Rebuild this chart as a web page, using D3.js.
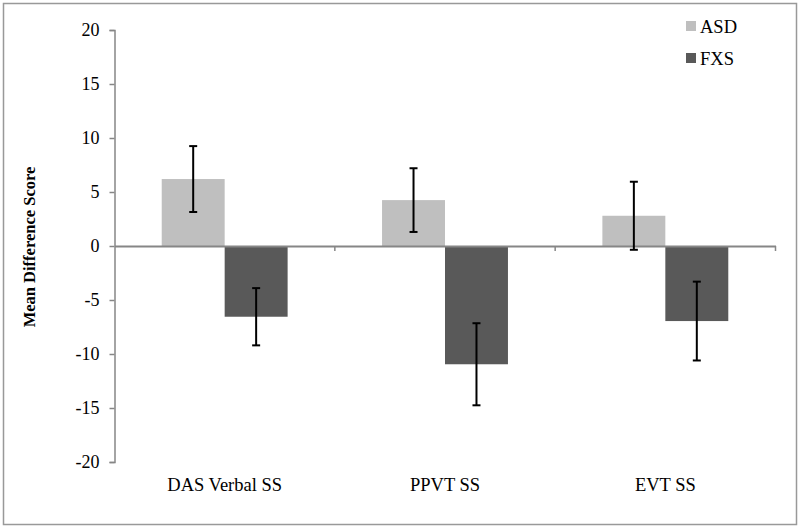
<!DOCTYPE html>
<html>
<head>
<meta charset="utf-8">
<script src="https://cdn.jsdelivr.net/npm/d3@7"></script>
<style>
  html, body { margin: 0; padding: 0; background: #fff; }
  svg { display: block; }
  svg text { font-family: 'Liberation Serif', 'Times New Roman', Times, serif !important; fill: #000; }
</style>
</head>
<body>
<script>
const categories = ["DAS Verbal SS", "PPVT SS", "EVT SS"];
const seriesNames = ["ASD", "FXS"];
const asdValues = [6.2, 4.25, 2.8];
const asdErrors = [3.05, 2.95, 3.15];
const fxsValues = [-6.55, -10.95, -6.95];
const fxsErrors = [2.65, 3.8, 3.65];
const yTicks = [-20, -15, -10, -5, 0, 5, 10, 15, 20];
const colors = { ASD: "#bfbfbf", FXS: "#595959" };
const SERIF = "'Liberation Serif', 'Times New Roman', Times, serif";

const W = 800, H = 529;
const svg = d3.select("body").append("svg").attr("width", W).attr("height", H)
  .style("font-family", SERIF);

// outer border
svg.append("rect").attr("x", 3.5).attr("y", 3.5).attr("width", 793).attr("height", 521)
  .attr("fill", "none").attr("stroke", "#999").attr("stroke-width", 1.5);

const plotLeft = 114.5, plotRight = 775.5;
const y = d3.scaleLinear().domain([-20, 20]).range([462, 30]);
const x0 = d3.scaleBand().domain(categories).range([plotLeft, plotRight]).paddingInner(0).paddingOuter(0);
const x1 = d3.scaleBand().domain(seriesNames).range([0, x0.bandwidth()]).paddingInner(0).paddingOuter(0.75);

const data = [];
categories.forEach((c, i) => {
  data.push({ cat: c, s: "ASD", v: asdValues[i], e: asdErrors[i] });
  data.push({ cat: c, s: "FXS", v: fxsValues[i], e: fxsErrors[i] });
});

// bars
svg.append("g").selectAll("rect").data(data).join("rect")
  .attr("x", d => x0(d.cat) + x1(d.s))
  .attr("width", x1.bandwidth())
  .attr("y", d => y(Math.max(0, d.v)))
  .attr("height", d => Math.abs(y(d.v) - y(0)))
  .attr("fill", d => colors[d.s]);

// y axis
const yAxis = d3.axisLeft(y).tickValues(yTicks).tickSize(5).tickPadding(10).tickFormat(d => String(d));
const gy = svg.append("g").attr("transform", `translate(${plotLeft},0)`).call(yAxis)
  .attr("font-family", null).style("font-family", SERIF);
gy.select(".domain").attr("stroke", "#868686").attr("stroke-width", 1.5);
gy.selectAll(".tick line").attr("stroke", "#868686").attr("stroke-width", 1.5);
gy.selectAll(".tick text").attr("font-size", 18).style("font-family", SERIF).attr("fill", "#000");

// x axis at zero
const xAxis = d3.axisBottom(x0).tickSize(0).tickFormat("");
const gx = svg.append("g").attr("transform", `translate(0,${y(0)})`).call(xAxis);
gx.select(".domain").attr("stroke", "#868686").attr("stroke-width", 2);
gx.selectAll(".tick").remove();
const boundaries = categories.map(c => x0(c) + x0.bandwidth());
gx.selectAll("line.btick").data(boundaries).join("line").attr("class", "btick")
  .attr("x1", d => d).attr("x2", d => d).attr("y1", 0).attr("y2", 5)
  .attr("stroke", "#868686").attr("stroke-width", 1.5);

// category labels
svg.append("g").selectAll("text").data(categories).join("text")
  .attr("x", d => x0(d) + x0.bandwidth() / 2)
  .attr("y", 491)
  .attr("text-anchor", "middle")
  .attr("font-size", 18.5)
  .style("font-family", SERIF)
  .text(d => d);

// error bars
const eg = svg.append("g").attr("stroke", "#000").attr("stroke-width", 2);
data.forEach(d => {
  const cx = x0(d.cat) + x1(d.s) + x1.bandwidth() / 2;
  const yt = y(d.v + d.e), yb = y(d.v - d.e);
  eg.append("line").attr("x1", cx).attr("x2", cx).attr("y1", yt).attr("y2", yb);
  eg.append("line").attr("x1", cx - 4).attr("x2", cx + 4).attr("y1", yt).attr("y2", yt);
  eg.append("line").attr("x1", cx - 4).attr("x2", cx + 4).attr("y1", yb).attr("y2", yb);
});

// y title
svg.append("text")
  .attr("transform", `translate(35,247) rotate(-90)`)
  .attr("text-anchor", "middle")
  .attr("font-size", 16.5)
  .attr("font-weight", "bold")
  .style("font-family", SERIF)
  .text("Mean Difference Score");

// legend
const legend = svg.append("g");
seriesNames.forEach((s, i) => {
  const ly = 26 + i * 32;
  legend.append("rect").attr("x", 686).attr("y", ly - 5).attr("width", 10).attr("height", 10).attr("fill", colors[s]);
  legend.append("text").attr("x", 700).attr("y", ly + 6.5).attr("font-size", 18.5)
    .style("font-family", SERIF).text(s);
});
</script>
</body>
</html>
